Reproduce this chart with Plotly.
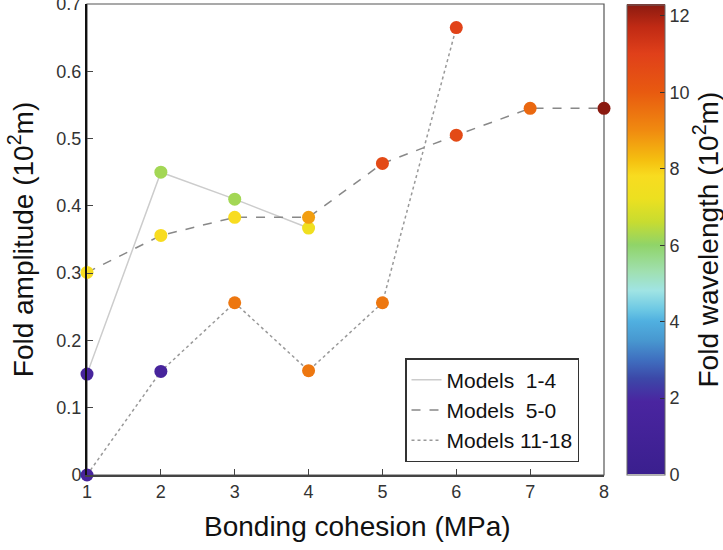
import plotly.graph_objects as go

# ---- data ----
cohesion_1 = [1, 2, 3, 4]
amplitude_1 = [0.150, 0.450, 0.410, 0.367]
wavelength_1 = [1.5, 6.2, 6.2, 7.4]

cohesion_2 = [1, 2, 3, 4, 5, 6, 7, 8]
amplitude_2 = [0.301, 0.356, 0.383, 0.383, 0.463, 0.505, 0.545, 0.545]
wavelength_2 = [7.7, 7.8, 7.8, 8.7, 10.6, 10.6, 9.7, 12.3]

cohesion_3 = [1, 2, 3, 4, 5, 6]
amplitude_3 = [0.0, 0.154, 0.256, 0.155, 0.256, 0.665]
wavelength_3 = [1.5, 1.5, 9.4, 9.4, 9.4, 10.9]

series_names = ["Models\u00a0\u00a01-4", "Models\u00a0\u00a05-0", "Models 11-18"]
x_ticks = [1, 2, 3, 4, 5, 6, 7, 8]
y_ticks = [0, 0.1, 0.2, 0.3, 0.4, 0.5, 0.6, 0.7]
cbar_ticks = [0, 2, 4, 6, 8, 10, 12]
CMAX = 12.3

stops = [
    (0.0, "#3a1f8e"), (1.9, "#4a25a0"), (2.5, "#3c48a8"), (3.0, "#3f70c0"),
    (3.5, "#4898d0"), (4.0, "#50b0e0"), (4.3, "#6cc8e4"), (4.8, "#a0e4e4"),
    (5.3, "#a0e0b0"), (6.0, "#90d468"), (6.6, "#c8dc30"), (7.2, "#ece020"),
    (7.8, "#f8dc20"), (8.2, "#f5c010"), (9.0, "#f08a10"), (10.0, "#e85a10"),
    (11.0, "#e0401a"), (11.7, "#c02a14"), (12.3, "#8a1a10"),
]
colorscale = [[v / CMAX, c] for v, c in stops]

fig = go.Figure()

line_styles = [
    dict(color="#cccccc", width=1.5, dash="solid"),
    dict(color="#888888", width=1.5, dash="dash"),
    dict(color="#999999", width=1.5, dash="dot"),
]
xs = [cohesion_1, cohesion_2, cohesion_3]
ys = [amplitude_1, amplitude_2, amplitude_3]
ws = [wavelength_1, wavelength_2, wavelength_3]

for x, y, name, ls in zip(xs, ys, series_names, line_styles):
    fig.add_trace(go.Scatter(x=x, y=y, mode="lines", name=name, line=ls,
                             cliponaxis=False))

for i, (x, y, w) in enumerate(zip(xs, ys, ws)):
    fig.add_trace(go.Scatter(
        x=x, y=y, mode="markers", showlegend=False, cliponaxis=False,
        marker=dict(size=13, color=w, cmin=0, cmax=CMAX, colorscale=colorscale,
                    showscale=(i == 0), line=dict(width=0),
                    colorbar=dict(
                        x=(627 - 87) / 517, xanchor="left", xref="paper",
                        y=0.5, yanchor="middle", len=470 / 471, lenmode="fraction",
                        thickness=38, outlinecolor="#666666", outlinewidth=1,
                        tickvals=cbar_ticks, ticks="inside", ticklen=5,
                        tickcolor="#333333",
                        tickfont=dict(family="Arial, Liberation Sans", size=18, color="#333333"),
                        ypad=0, xpad=0,
                    ))))

font_fam = "Arial, Liberation Sans, sans-serif"
fig.update_layout(
    width=723, height=550,
    margin=dict(l=87, r=119, t=4, b=75, autoexpand=False),
    paper_bgcolor="white", plot_bgcolor="white",
    font=dict(family=font_fam, color="#222222"),
    xaxis=dict(range=[1, 8], tickvals=x_ticks, ticks="inside", ticklen=6,
               tickcolor="#444444", showgrid=False, zeroline=False,
               showline=True, linecolor="#444444", linewidth=1.5,
               ticklabeloverflow="allow",
               tickfont=dict(size=18, color="#333333")),
    yaxis=dict(range=[0, 0.7], tickvals=y_ticks, ticks="inside", ticklen=6,
               tickcolor="#444444", showgrid=False, zeroline=False,
               showline=True, linecolor="#111111", linewidth=2,
               ticklabeloverflow="allow",
               tickfont=dict(size=18, color="#333333"),
               title=dict(text="Fold amplitude (10<sup>2</sup>m)", font=dict(size=28, color="#111111"),
                          standoff=15)),
    legend=dict(x=(405 - 87) / 517, y=(475 - 358) / 471, xanchor="left", yanchor="top",
                bgcolor="white", bordercolor="#333333", borderwidth=1.5,
                font=dict(size=21, color="#111111"), tracegroupgap=0),
    shapes=[dict(type="rect", xref="paper", yref="paper", x0=0, x1=1, y0=0, y1=1,
                 line=dict(color="#555555", width=1.2), layer="below")],
    annotations=[
        dict(text="Fold wavelength (10<sup>2</sup>m)", textangle=-90,
             xref="paper", yref="paper", x=(706 - 87) / 517, y=0.5,
             xanchor="center", yanchor="middle", showarrow=False,
             font=dict(size=28, color="#111111")),
        dict(text="Bonding cohesion (MPa)",
             xref="paper", yref="paper", x=(357 - 87) / 517, y=(475 - 526) / 471,
             xanchor="center", yanchor="middle", showarrow=False,
             font=dict(size=28, color="#111111")),
    ],
)

fig.write_html("out.html", config={"displayModeBar": False},
               post_script="document.body.style.margin='0';")
